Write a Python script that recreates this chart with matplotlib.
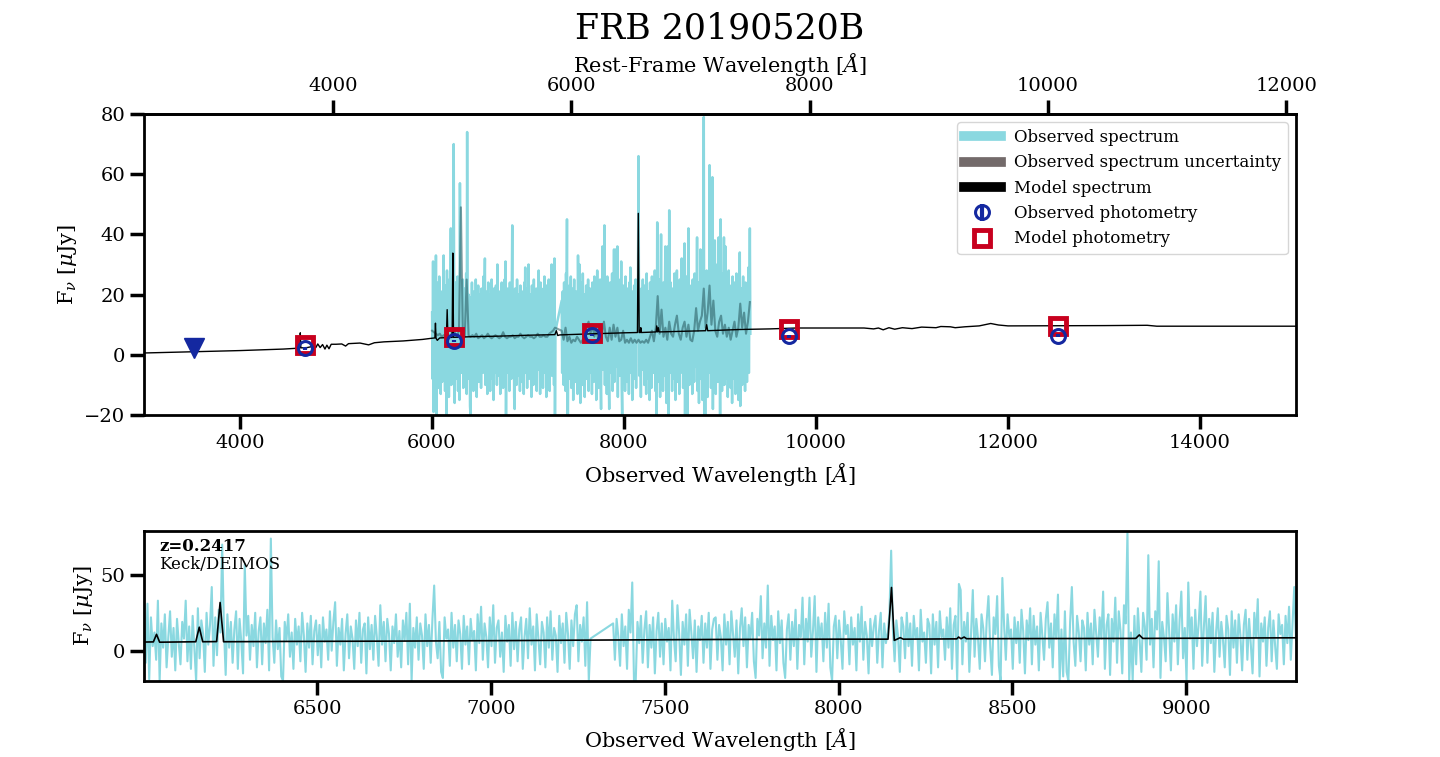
import numpy as np
import matplotlib
matplotlib.use("Agg")
import matplotlib.pyplot as plt
from matplotlib.lines import Line2D

plt.rcParams['font.family'] = 'serif'
plt.rcParams['font.serif'] = ['DejaVu Serif']
plt.rcParams['mathtext.fontset'] = 'dejavuserif'

z = 0.2417

# observed spectrum, two chips (5 A sampling), flux in uJy
flux_blue = [
    14, -8, 31, -19, 22, 3, 12, -6, 33, -20,
    18, 2, 24, -11, 9, 26, -4, 15, -13, 21,
    5, -9, 19, 8, 33, -7, 16, -12, 23, 1,
    -20, 28, -5, 20, 11, -14, 25, 4, 17, 42,
    -10, 22, -3, 27, 12, 70, 15, -16, 24, 2,
    19, -8, 14, 26, -12, 21, 6, -15, 57, 10,
    23, -6, 17, 3, 25, -11, 13, 22, -9, 18,
    5, 27, -13, 74, 9, -8, 20, 1, 15, -17,
    -20, 19, 7, 24, -4, 12, -12, 21, 4, 16,
    -7, 25, 10, -14, 18, 2, 23, -9, 13, 20,
    -3, 17, -11, 22, 6, 14, -6, 26, 0, 19,
    32, -10, 15, 4, 21, -13, 11, 24, -5, 16,
    8, -12, 20, 3, 25, -8, 14, 18, -15, 22,
    1, 17, -6, 23, 9, -10, 30, 4, 19, -7,
    21, 11, -13, 16, 5, 24, -4, 13, -11, 20,
    7, 25, -9, 31, -20, 15, 2, 22, -6, 18,
    10, -12, 24, 3, 17, -8, 21, 43, 6, -5,
    19, -14, -18, 22, 8, 14, -10, 25, 2, 17,
    -7, 20, 11, -12, 23, 4, 16, -9, 21, 7,
    13, -13, 24, 5, 29, -6, 18, 9, -11, 22,
    3, 30, -8, 15, 20, -4, 12, -14, 23, 6,
    17, -10, 25, 1, 19, -7, 14, 22, -12, 9,
    21, -5, 28, 4, 16, -13, 24, 8, -9, 19,
    12, -11, 22, 2, 26, -6, 15, 10, -14, 23,
    5, 18, -8, 25, 11, -12, 20, 3, 24, 30,
    -7, 17, 6, 22, -10, 32, -20, 8,
]
flux_red = [
    18, -6, 21, 9, -10, 24, 3, 16, -12, 27,
    12, 45, -20, -20, 19, 5, 23, -8, 14, 26,
    -11, 17, 2, 22, -15, 13, 25, -4, 18, -9,
    21, 6, 15, -13, 33, 8, -7, 30, 11, -16,
    19, 4, 24, -10, 27, 12, -5, 20, -14, 16,
    7, 23, -8, 18, 2, 25, -12, 14, 21, 22,
    -6, 17, 9, -13, 24, 4, 19, -9, 26, 11,
    -4, 20, -15, 15, 28, 3, 22, -11, 17, 8,
    25, -7, -18, 21, 10, 36, -5, 18, 2, 43,
    -10, 23, 7, 16, -13, 26, 5, 20, -8, -18,
    14, 24, -6, 19, 3, 27, -12, 17, 9, 35,
    -9, 21, 6, 35, -4, 13, 36, -14, 22, 8,
    18, -7, 25, 2, 31, -11, -20, 16, 23, -5,
    20, 7, -12, 26, 11, 17, -9, 22, 4, 15,
    -13, 24, 6, 29, -6, 19, 10, -15, 21, 3,
    16, 23, -8, 13, 25, -11, 18, 5, 12, 24,
    66, 14, -7, 20, 9, -14, 22, 16, -5, 25,
    3, 18, -10, 23, 8, 15, -13, 27, 6, 12,
    -8, 21, 17, -15, 24, 4, 19, -11, 26, 9,
    14, -6, 22, 2, 28, -12, 17, 23, -20, 44,
    40, -9, 19, 6, 25, -14, 12, 40, -4, 21,
    8, -12, 24, 15, -7, 20, 36, 3, -16, 22,
    11, 36, -10, -20, 48, 17, -6, 24, 9, 14,
    -12, 22, 5, 19, -8, 27, 13, -15, 20, 7,
    28, -9, 23, 4, 16, -13, 25, 10, -6, 21,
    32, 2, 18, -11, 24, 8, 37, -20, 14, -17,
    26, -14, -20, 19, 42, 6, -10, 23, 12, -7,
    20, 15, -13, 25, 4, 18, -9, 27, 11, -4,
    22, 8, 39, -12, 17, 24, -16, 21, 6, 35,
    -8, 26, 13, -15, 30, 18, 79, -20, 12, -20,
    23, -9, 28, 7, -14, 25, 16, -6, 63, 4,
    21, -11, 26, 14, 59, -18, 19, 9, -7, 38,
    12, -13, 24, 6, 30, -9, 20, 39, -5, 15,
    -20, 45, 8, 22, -12, 27, 3, 18, 39, -10,
    16, 36, -8, 21, 5, 25, -14, 12, 28, -4,
    19, 7, -11, 23, 14, -16, 26, 2, 20, -8,
    24, 10, -13, 17, 27, -6, 21, 4, -15, 25,
    9, 34, -17, 18, 6, 22, -10, 15, 26, -7,
    20, 3, -12, 24, 11, 17, -9, 23, 5, 29,
    -6, 18, 42, 7,
]
wave_blue = 6001 + 5 * np.arange(len(flux_blue))
wave_red = 7351 + 5 * np.arange(len(flux_red))

# uncertainty spectrum (20 A sampling)
err_blue = [
    8, 7.5, 7, 6.5, 7, 6, 6.5, 6, 7, 6, 6.5, 9, 7, 6, 8, 49, 7, 6, 25, 6.5,
    6, 6.5, 6, 7, 5.5, 6, 6.5, 5.5, 6, 7, 6, 5.5, 6, 6.5, 6, 5.5, 6, 7.5, 6, 5.5,
    6, 6, 6.5, 5.5, 6, 6, 7, 6, 5.5, 6, 6.5, 6, 6, 5.5, 6, 7, 6, 6, 6.5, 6,
    6, 7, 7.5, 8, 9,
]
err_red = [
    8, 5, 9, 4.5, 6, 4, 5, 4.5, 6, 5, 4, 5, 7, 9, 11, 7, 10, 6, 9, 5,
    10, 7, 11, 6, 4.5, 9, 5, 10, 6, 9, 4.5, 5, 8, 4, 5, 4, 5.5, 4, 5, 4,
    5, 4, 4.5, 4, 5, 4, 6, 8, 4.5, 9, 19.5, 7, 15, 6, 9, 5, 11, 7, 6, 10,
    13, 7, 5, 9, 11, 6, 10, 5, 4.5, 8, 15.5, 8, 11, 13, 22, 9, 14, 23, 10, 18,
    8, 6, 11, 13, 7, 10, 6, 9, 5, 8, 11, 6, 9, 17, 9, 14, 7, 11, 17.5,
]
err_wave_blue = 6001 + 20 * np.arange(len(err_blue))
err_wave_red = 7351 + 20 * np.arange(len(err_red))

# best-fit model spectrum (full range)
model_wave = [3000, 3500, 4000, 4450, 4610, 4622, 4628, 4634, 4700, 4760, 4790, 4810,
              4835, 4860, 4885, 4905, 4927, 4950, 5000, 5060, 5100, 5130, 5250, 5340,
              5400, 5500, 5700, 5900, 6000, 6030, 6036, 6042, 6055, 6080, 6150, 6158,
              6166, 6210, 6217, 6224, 6400, 6700, 7000, 7280, 7295, 7310, 7330, 7600,
              8000, 8140, 8149, 8158, 8170, 8175, 8180, 8335, 8341, 8350, 8358, 8366,
              8600, 8850, 8861, 8872, 9200, 9520, 9800, 10500, 10600, 10650, 10700,
              10760, 10820, 10900, 11000, 11100, 11250, 11300, 11400, 11450, 11550,
              11700, 11820, 11900, 12000, 13000, 13450, 13550, 15000]
model_flux = [0.6, 1.0, 1.4, 1.9, 2.2, 2.3, 7.3, 2.3, 2.4, 2.8, 2.4, 3.6,
              2.4, 3.4, 1.9, 3.2, 2.0, 3.5, 3.5, 3.6, 2.9, 3.7, 3.9, 3.3,
              4.0, 4.3, 4.6, 5.1, 5.5, 5.6, 10.5, 5.5, 4.8, 5.6, 5.7, 15.0,
              5.7, 5.8, 33.8, 5.8, 6.0, 6.2, 6.5, 6.7, 8.0, 6.4, 6.6, 6.9,
              7.3, 7.4, 47.0, 7.4, 7.4, 9.0, 7.4, 7.6, 9.6, 7.6, 9.0, 7.6,
              7.8, 8.0, 10.0, 8.0, 8.4, 8.6, 8.9, 8.9, 8.6, 8.9, 8.3,
              9.0, 8.5, 9.0, 8.7, 9.2, 9.0, 9.4, 9.3, 9.0, 9.3,
              9.6, 10.4, 9.9, 9.6, 9.7, 9.8, 9.5, 9.5]

# model convolved to the DEIMOS resolution (zoom panel)
zoom_model_wave = [6001, 6028, 6037, 6046, 6150, 6160, 6170, 6210, 6220, 6230, 6400,
                   6550, 6700, 7000, 7300, 7647, 8000, 8142, 8152, 8160, 8168, 8177,
                   8186, 8340, 8345, 8352, 8361, 8368, 8600, 8855, 8865, 8875, 9093, 9317]
zoom_model_flux = [5.7, 5.8, 10.8, 5.6, 5.9, 15.5, 5.9, 6.0, 31.8, 5.9, 6.1,
                   6.2, 6.3, 6.6, 7.0, 7.4, 7.6, 7.6, 41.7, 6.8, 7.6, 8.6,
                   7.6, 7.8, 9.0, 7.9, 9.0, 7.9, 8.0, 8.1, 10.4, 8.1, 8.3, 8.5]

# photometry
phot_wave = [4680, 6225, 7667, 9715, 12521]
phot_obs = [2.1, 4.7, 6.6, 6.1, 6.3]
phot_err = [0.4, 0.3, 0.3, 0.4, 0.5]
phot_model = [3.3, 5.8, 7.3, 8.7, 9.6]
uplim_wave = [3521]
uplim_flux = [2.3]

cyan = '#8ad8e0'
blue = '#1428a0'
red = '#c8001e'

wave = np.concatenate([wave_blue, wave_red])
flux = np.concatenate([flux_blue, flux_red])
err_wave = np.concatenate([err_wave_blue, err_wave_red])
err = np.concatenate([err_blue, err_red])

fig = plt.figure(figsize=(14.4, 7.57), dpi=100)
ax1 = fig.add_axes([0.1, 0.4518, 0.8, 0.3976])
ax2 = fig.add_axes([0.1, 0.1004, 0.8, 0.1982])

ax1.plot(wave, flux, color=cyan, lw=1.8, zorder=1)
ax1.plot(err_wave, err, color='#24555b', alpha=0.55, lw=1.5, zorder=2)
ax1.plot(model_wave, model_flux, color='k', lw=1.0, zorder=3)
ax1.plot(phot_wave, phot_model, ls='none', marker='s', ms=11, mfc='none',
         mec=red, mew=3.5, zorder=4)
ax1.errorbar(phot_wave, phot_obs, yerr=phot_err, fmt='o', ms=10, mfc='none',
             mec=blue, mew=2.2, ecolor=blue, elinewidth=3, zorder=5)
ax1.plot(uplim_wave, uplim_flux, ls='none', marker='v', ms=15, color=blue, zorder=5)

ax1.set_xlim(3000, 15000)
ax1.set_ylim(-20, 80)
ax1.set_xlabel(r'Observed Wavelength [$\AA$]', fontsize=15, labelpad=7)
ax1.set_ylabel(r'F$_\nu$ [$\mu$Jy]', fontsize=15)

sec = ax1.secondary_xaxis('top', functions=(lambda x: x / (1 + z), lambda x: x * (1 + z)))
sec.set_xticks([4000, 6000, 8000, 10000, 12000])
sec.set_xlabel(r'Rest-Frame Wavelength [$\AA$]', fontsize=15)
sec.tick_params(direction='out', length=10, width=2.5, labelsize=14)

handles = [
    Line2D([], [], color=cyan, lw=7),
    Line2D([], [], color='#736a6a', lw=7),
    Line2D([], [], color='k', lw=7),
    ax1.errorbar([], [], yerr=[], fmt='o', ms=10, mfc='none', mec=blue, mew=2.2,
                 ecolor=blue, elinewidth=3),
    Line2D([], [], ls='none', marker='s', ms=11, mfc='none', mec=red, mew=3.5),
]
labels = ['Observed spectrum', 'Observed spectrum uncertainty', 'Model spectrum',
          'Observed photometry', 'Model photometry']
ax1.legend(handles, labels, loc='upper right', fontsize=12, handlelength=2.2)

ax2.plot(wave, flux, color=cyan, lw=1.5)
ax2.plot(zoom_model_wave, zoom_model_flux, color='k', lw=1.2)
ax2.set_xlim(wave.min(), wave.max())
ax2.set_ylim(-20, 79)
ax2.set_xticks([6500, 7000, 7500, 8000, 8500, 9000])
ax2.set_yticks([0, 50])
ax2.set_xlabel(r'Observed Wavelength [$\AA$]', fontsize=15, labelpad=6)
ax2.set_ylabel(r'F$_\nu$ [$\mu$Jy]', fontsize=15)
ax2.text(0.013, 0.95, 'z=0.2417', transform=ax2.transAxes, fontsize=12,
         fontweight='bold', va='top')
ax2.text(0.013, 0.835, 'Keck/DEIMOS', transform=ax2.transAxes, fontsize=12, va='top')

for ax in (ax1, ax2):
    ax.tick_params(direction='out', length=10, width=2.5, labelsize=14)
    for sp in ax.spines.values():
        sp.set_linewidth(2)
sec.spines['top'].set_linewidth(2)

fig.text(0.5, 0.963, 'FRB 20190520B', ha='center', va='center', fontsize=25)

fig.savefig('out.png', dpi=100)
